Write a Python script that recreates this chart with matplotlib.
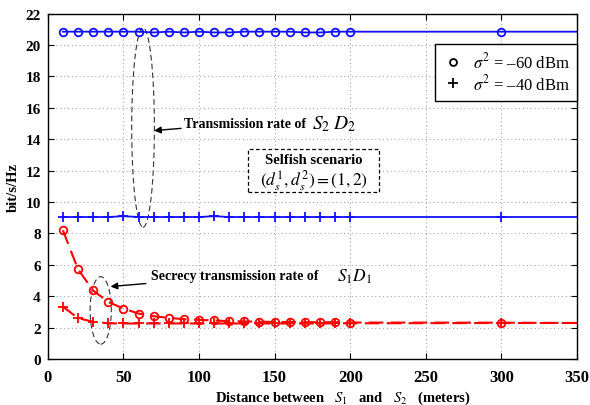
import matplotlib
matplotlib.use("Agg")
import matplotlib.pyplot as plt
from matplotlib.lines import Line2D
from matplotlib.patches import Ellipse, Rectangle

plt.rcParams['font.family'] = ['Liberation Serif', 'DejaVu Serif']
plt.rcParams['mathtext.fontset'] = 'stix'

# Data
distance = [10, 20, 30, 40, 50, 60, 70, 80, 90, 100, 110, 120, 130, 140, 150,
            160, 170, 180, 190, 200, 300, 350]
rate_s2d2_m60 = [20.85, 20.85, 20.85, 20.85, 20.85, 20.85, 20.8, 20.85, 20.8, 20.85, 20.8,
                 20.8, 20.85, 20.85, 20.85, 20.85, 20.8, 20.8, 20.85, 20.85, 20.85, 20.85]
rate_s2d2_m40 = [9.05, 9.05, 9.05, 9.05, 9.1, 9.05, 9.05, 9.05, 9.05, 9.05, 9.1,
                 9.05, 9.05, 9.05, 9.05, 9.05, 9.05, 9.05, 9.05, 9.05, 9.05, 9.05]
secrecy_m60 = [8.2, 5.72, 4.37, 3.64, 3.22, 2.9, 2.73, 2.63, 2.54, 2.5, 2.46,
               2.42, 2.4, 2.38, 2.37, 2.36, 2.35, 2.35, 2.35, 2.33, 2.32, 2.3]
secrecy_m40 = [3.34, 2.61, 2.38, 2.28, 2.27, 2.27, 2.27, 2.27, 2.27, 2.27, 2.27,
               2.27, 2.27, 2.27, 2.27, 2.27, 2.27, 2.27, 2.28, 2.28, 2.3, 2.3]
legend_labels = [r'$\sigma^2$ = –60 dBm', r'$\sigma^2$ = –40 dBm']

fig = plt.figure(figsize=(5.9, 4.06), dpi=100)
ax = fig.add_axes([0.081, 0.113, 0.897, 0.851])

mk = list(range(len(distance) - 1))
dash = (0, (7, 3.5))

ax.plot(distance, rate_s2d2_m60, color='#1010ff', lw=1.3, marker='o', ms=5.5,
        mfc='none', mew=1.3, markevery=mk)
ax.plot(distance, rate_s2d2_m40, color='#1010ff', lw=1.3, marker='+', ms=7,
        mew=1.3, markevery=mk)
ax.plot(distance, secrecy_m60, color='#ff0000', lw=1.5, ls=dash, marker='o', ms=5.5,
        mfc='none', mew=1.3, markevery=mk)
ax.plot(distance, secrecy_m40, color='#ff0000', lw=1.5, ls=dash, marker='+', ms=7,
        mew=1.3, markevery=mk)

ax.set_xlim(0, 350)
ax.set_ylim(0, 22)
ax.set_xticks(range(0, 351, 50))
ax.set_yticks(range(0, 23, 2))
ax.tick_params(direction='in', top=True, right=True, length=4, pad=5)
ax.tick_params(axis='x', labelsize=12, pad=7)
ax.tick_params(axis='y', labelsize=11)
for lab in ax.get_xticklabels() + ax.get_yticklabels():
    lab.set_fontweight('bold')
ax.grid(True, ls=(0, (1, 2.5)), color='#aaaaaa', lw=0.8)
for s in ax.spines.values():
    s.set_linewidth(1.0)

ax.set_xlabel(r'Distance between   $S_1$   and   $S_2$   (meters)', fontsize=10.5,
              fontweight='bold')
ax.xaxis.set_label_coords(0.558, -0.085)
ax.set_ylabel('bit/s/Hz', fontsize=10.5, fontweight='bold', labelpad=4)

handles = [Line2D([], [], marker='o', color='k', ls='none', mfc='none', ms=5, mew=1.3),
           Line2D([], [], marker='+', color='k', ls='none', ms=7, mew=1.3)]
leg = ax.legend(handles, legend_labels, loc='upper right', bbox_to_anchor=(1.0, 0.912),
                borderaxespad=0, fontsize=12, fancybox=False, framealpha=1,
                edgecolor='k', handlelength=1.2, handletextpad=0.6, borderpad=0.45,
                labelspacing=0.1)
leg.get_frame().set_linewidth(1.0)

# Ellipses
ax.add_patch(Ellipse((63, 14.75), 15, 12.7, fill=False, ls=(0, (5, 3)), ec='#333333', lw=0.8))
ax.add_patch(Ellipse((35, 3.1), 14, 4.3, fill=False, ls=(0, (5, 3)), ec='#333333', lw=0.8))

ax.annotate('Transmission rate of', xy=(70.3, 14.55), xytext=(90, 15.03),
            fontsize=10, fontweight='bold', va='center', ha='left',
            arrowprops=dict(arrowstyle='-|>', color='k', lw=1.0, mutation_scale=10,
                            shrinkA=0, shrinkB=0))
ax.text(174.5, 15.03, r'$S_2\;D_2$', fontsize=14, va='center', ha='left')
ax.annotate('Secrecy transmission rate of', xy=(41.5, 4.62), xytext=(68.5, 5.3),
            fontsize=10, fontweight='bold', va='center', ha='left',
            arrowprops=dict(arrowstyle='-|>', color='k', lw=1.0, mutation_scale=10,
                            shrinkA=2, shrinkB=0))
ax.text(191, 5.3, r'$S_1D_1$', fontsize=12.5, va='center', ha='left')

ax.add_patch(Rectangle((132.4, 10.66), 86.6, 2.72, fc='white', ec='k',
                       ls=(0, (3, 2)), lw=0.9, zorder=4))
ax.text(175.8, 12.72, 'Selfish scenario', fontsize=10.5, fontweight='bold',
        ha='center', va='center', zorder=5)
ax.text(175.8, 11.42, r'$(d_s^1, d_s^2) = (1, 2)$', fontsize=12.5,
        ha='center', va='center', zorder=5)

fig.savefig('out.png', dpi=100)
